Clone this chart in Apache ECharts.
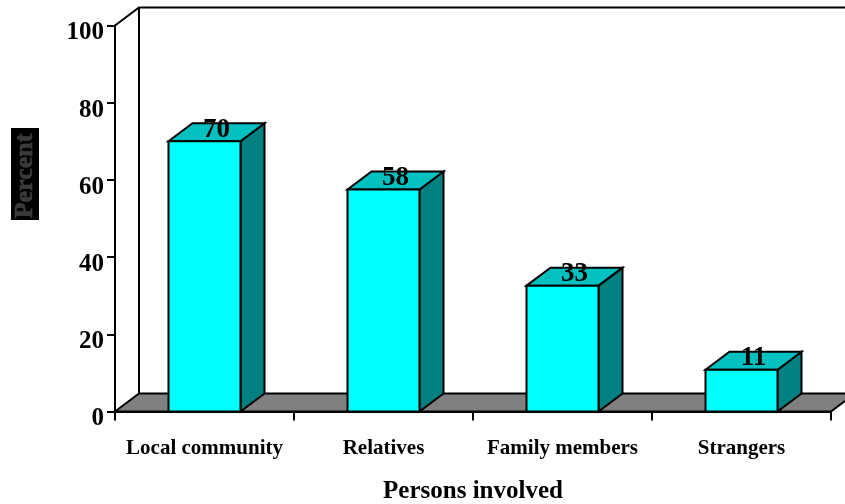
<!DOCTYPE html>
<html>
<head>
<meta charset="utf-8">
<style>html,body{margin:0;padding:0;background:#fff}#c{width:845px;height:504px}</style>
<script src="https://cdn.jsdelivr.net/npm/echarts@6/dist/echarts.min.js"></script>
</head>
<body>
<div id="c"></div>
<script>
var categories = ['Local community', 'Relatives', 'Family members', 'Strangers'];
var barHeights = [70, 57.5, 32.6, 10.8];
var barLabels = ['70', '58', '33', '11'];
var yTicks = [0, 20, 40, 60, 80, 100];
var xTitle = 'Persons involved';
var yTitle = 'Percent';

var DX = 24, DY = -18, BAR_W = 72;
var FONT = '"Liberation Serif","Times New Roman",serif';
var line = {stroke: '#000', lineWidth: 2, lineJoin: 'miter'};
function st(fill){ return Object.assign({fill: fill}, line); }
function poly(points, fill){ return {type: 'polygon', shape: {points: points}, style: st(fill)}; }

function renderWalls(params, api){
  var o = api.coord([categories[0], 0]);
  var band = api.size([1, 0])[0];
  var x0 = o[0] - band / 2, y0 = o[1];
  var x1 = x0 + band * categories.length;
  var yTop = api.coord([categories[0], 100])[1];
  return {type: 'group', children: [
    poly([[x0, y0], [x0 + DX, y0 + DY], [x1 + DX, y0 + DY], [x1, y0]], '#808080'),
    {type: 'polyline', shape: {points: [[x0, yTop], [x0 + DX, yTop + DY], [x1 + DX, yTop + DY]]}, style: {stroke: '#000', lineWidth: 2, fill: null}},
    {type: 'line', shape: {x1: x0 + DX, y1: yTop + DY, x2: x0 + DX, y2: y0 + DY}, style: {stroke: '#000', lineWidth: 2}}
  ]};
}
function renderBar(params, api){
  var p = api.coord([api.value(0), api.value(1)]);
  var b = api.coord([api.value(0), 0]);
  var l = p[0] - BAR_W / 2, r = p[0] + BAR_W / 2, t = p[1], y0 = b[1];
  return {type: 'group', children: [
    poly([[r, t], [r + DX, t + DY], [r + DX, y0 + DY], [r, y0]], '#008080'),
    poly([[l, t], [l + DX, t + DY], [r + DX, t + DY], [r, t]], '#00c0c0'),
    poly([[l, t], [r, t], [r, y0], [l, y0]], '#00ffff'),
    {type: 'text', style: {text: barLabels[params.dataIndex], x: p[0] + DX / 2, y: t + DY / 2 - 2.5,
      align: 'center', verticalAlign: 'middle', fill: '#000', font: 'bold 27px ' + FONT}}
  ]};
}

var chart = echarts.init(document.getElementById('c'), null, {renderer: 'canvas'});
chart.setOption({
  animation: false,
  backgroundColor: '#fff',
  grid: {left: 115, right: 14, top: 25.5, bottom: 92.5, containLabel: false, outerBoundsMode: 'none'},
  xAxis: {
    type: 'category', data: categories, z: 5,
    axisLine: {lineStyle: {color: '#000', width: 2}},
    axisTick: {show: true, alignWithLabel: false, length: 9, lineStyle: {color: '#000', width: 2}},
    axisLabel: {color: '#000', fontFamily: FONT, fontWeight: 'bold', fontSize: 21, margin: 27, interval: 0},
    name: xTitle, nameLocation: 'middle', nameGap: 68,
    nameTextStyle: {color: '#000', fontFamily: FONT, fontWeight: 'bold', fontSize: 25}
  },
  yAxis: {
    type: 'value', min: 0, max: 100, interval: 20, z: 5,
    splitLine: {show: false},
    axisLine: {show: true, lineStyle: {color: '#000', width: 2}},
    axisTick: {show: true, length: 8, lineStyle: {color: '#000', width: 2}},
    axisLabel: {color: '#000', fontFamily: FONT, fontWeight: 'bold', fontSize: 25, margin: 11,
      verticalAlign: 'top', verticalAlignMinLabel: 'top', verticalAlignMaxLabel: 'top', lineHeight: 15,
      formatter: function(v){ return yTicks.indexOf(v) >= 0 ? String(v) : ''; }}
  },
  series: [
    {type: 'custom', renderItem: renderWalls, data: [[0, 0]], z: 1, silent: true, clip: false,
      encode: {x: 0, y: 1}},
    {type: 'custom', renderItem: renderBar, z: 3, silent: true, clip: false,
      data: categories.map(function(c, i){ return [i, barHeights[i]]; }), encode: {x: 0, y: 1}}
  ],
  graphic: [
    {type: 'rect', shape: {x: 11, y: 128, width: 28, height: 92}, style: {fill: '#000'}, z: 10},
    {type: 'text', x: 25, y: 176, rotation: Math.PI / 2, z: 11,
      style: {text: yTitle, align: 'center', verticalAlign: 'middle', fill: '#3a3a3a',
        stroke: '#555', lineWidth: 0.5, font: 'bold 26px ' + FONT}}
  ]
});
</script>
</body>
</html>
